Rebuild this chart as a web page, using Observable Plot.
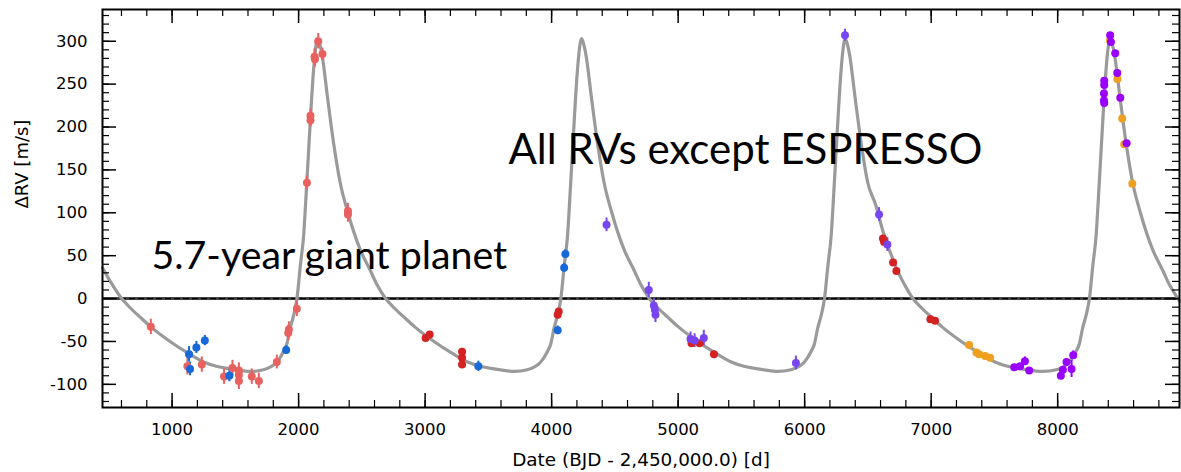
<!DOCTYPE html>
<html><head><meta charset="utf-8">
<script src="https://cdn.jsdelivr.net/npm/d3@7"></script>
<script src="https://cdn.jsdelivr.net/npm/@observablehq/plot@0.6"></script>
<style>body{margin:0;background:#fff;} svg{display:block;}</style>
</head><body><div id="chart"></div>
<script>
// ---------- data ----------
const instruments = ["set1", "set2", "set3", "set4", "set5", "set6"];
const instColors  = ["#e8615e", "#1769d9", "#d42222", "#7746f0", "#f0a020", "#9a00ff"];

// [date, dRV, error]
const set1 = [[832,-33,9],[1121,-79,10],[1235,-77,9],[1411,-91,9],[1477,-81,9],[1528,-84,9],[1528,-89,9],[1528,-96,10],[1630,-91,9],[1686,-96,9],[1828,-74,8],[1918,-40,9],[1923,-36,9],[1986,-12,9],[2066,135,8],[2094,213,8],[2094,208,8],[2126,282,9],[2129,279,9],[2155,300,9],[2189,285,7],[2390,102,9],[2390,98,9]];
const set2 = [[1134,-65,9],[1142,-82,8],[1192,-57,7],[1259,-49,6],[1453,-90,7],[1902,-60,5],[3421,-79,6],[4048,-37,5],[4099,36,5],[4109,52,5]];
const set3 = [[3004,-46,2],[3036,-42,2],[3292,-62,2],[3292,-69,2],[3292,-77,2],[4048,-19,2],[4056,-15,2],[5106,-52,2],[5169,-52,2],[5283,-65,2],[6619,70,2],[6628,66,2],[6699,42,2],[6725,32,2],[6994,-24,2],[7031,-26,2]];
const set4 = [[4434,86,8],[4768,10,9],[4808,-8,8],[4816,-13,8],[4821,-19,9],[5098,-47,8],[5130,-49,8],[5203,-46,9],[5931,-75,8],[6319,307,7],[6588,98,8],[6654,63,8]];
const set5 = [[7300,-54,2],[7358,-63,2],[7379,-65,2],[7427,-67,2],[7466,-69,2],[8413,301,2],[8472,256,2],[8510,210,2],[8526,180,2],[8590,134,2]];
const set6 = [[7657,-80,2],[7703,-79,2],[7741,-73,5],[7775,-84,2],[8025,-90,3],[8041,-83,3],[8070,-74,3],[8110,-82,10],[8123,-66,5],[8368,254,3],[8368,249,3],[8366,239,3],[8366,231,3],[8368,228,3],[8415,307,3],[8421,299,3],[8455,286,3],[8471,263,3],[8495,234,3],[8545,181,3]];

// Keplerian model curve
const curveX = [450,520,602,670,750,832,984,1130,1250,1350,1459,1550,1617,1722,1828,1880,1907,1934,1960,1987,2015,2039,2066,2094,2118,2138,2150,2165,2190,2224,2276,2329,2390,2487,2566,2620,
2688,2756,2836,2918,3070,3216,3336,3436,3545,3636,3703,3808,3914,3966,3993,4020,4046,4073,4101,4125,4152,4180,4204,4224,4236,4251,4276,4310,4362,4415,4476,4573,4652,4706,
4772,4840,4920,5002,5154,5300,5420,5520,5629,5720,5787,5892,5998,6050,6077,6104,6130,6157,6185,6209,6236,6264,6288,6308,6320,6335,6360,6394,6446,6499,6560,6620,6700,6736,6790,
6856,6924,7004,7086,7238,7384,7504,7604,7713,7804,7880,7990,8092,8144,8171,8198,8224,8251,8279,8303,8330,8358,8382,8402,8414,8429,8454,8488,8540,8593,8654,8751,8830,8884,8950,8963];
const curveY = [36,18,0,-11,-22,-33,-50,-64,-74,-79,-82,-84,-85,-83,-74,-62,-53,-34,-20,0,40,72,138,211,266,296,303,298,280,240,182,135,100,57,33,16,
0,-11,-22,-33,-50,-64,-74,-79,-82,-84,-85,-83,-74,-62,-53,-34,-20,0,40,72,138,211,266,296,303,298,280,240,182,135,100,57,33,16,
0,-11,-22,-33,-50,-64,-74,-79,-82,-84,-85,-83,-74,-62,-53,-34,-20,0,40,72,138,211,266,296,303,298,280,240,182,135,110,78,45,32,16,
0,-11,-22,-33,-50,-64,-74,-79,-82,-84,-85,-83,-74,-62,-53,-34,-20,0,40,72,138,211,266,296,303,298,280,240,182,135,100,57,33,16,0,-3];

const xTickLabels = [1000,2000,3000,4000,5000,6000,7000,8000];
const yTickLabels = [-100,-50,0,50,100,150,200,250,300];
const xMinorTicks = d3.range(600, 8961, 200);
const yMinorTicks = d3.range(-120, 331, 10);

const xTitle = "Date (BJD - 2,450,000.0) [d]";
const yTitle = "ΔRV [m/s]";
const note1 = "All RVs except ESPRESSO";
const note2 = "5.7-year giant planet";

// ---------- build tables ----------
const sets = [set1, set2, set3, set4, set5, set6];
const points = sets.flatMap((s, i) => s.map(([x, y, e]) => ({inst: instruments[i], x, y, e})));
const curve = curveX.map((x, i) => ({x, y: curveY[i]}));

// ---------- layout ----------
const W = 1181, H = 472;
const mL = 102, mR = 2, mT = 9, mB = 65;
const pw = W - mL - mR, ph = H - mT - mB;
const majorLen = 14, minorLen = 7;

const chart = Plot.plot({
  width: W, height: H,
  marginLeft: mL, marginRight: mR, marginTop: mT, marginBottom: mB,
  style: {fontFamily: "'DejaVu Sans', Verdana, sans-serif", fontSize: "16px", background: "#fff", color: "#000"},
  x: {domain: [450, 8963], axis: null},
  y: {domain: [-127, 337], axis: null},
  color: {domain: instruments, range: instColors},
  marks: [
    Plot.ruleY([0], {stroke: "#444", strokeWidth: 3}),
    Plot.ruleY([0], {stroke: "#000", strokeWidth: 1.2, strokeDasharray: "6,3"}),
    Plot.line(curve, {x: "x", y: "y", stroke: "#9a9a9a", strokeWidth: 3.2, curve: "monotone-x"}),
    Plot.ruleX(points, {x: "x", y1: d => d.y - d.e, y2: d => d.y + d.e, stroke: "inst", strokeWidth: 2}),
    Plot.dot(points, {x: "x", y: "y", r: 4, fill: "inst", stroke: "none"}),
    // ticks on all four sides, pointing inward
    Plot.tickX(xTickLabels, {x: d => d, insetTop: ph - majorLen, stroke: "#000", strokeWidth: 1.5}),
    Plot.tickX(xTickLabels, {x: d => d, insetBottom: ph - majorLen, stroke: "#000", strokeWidth: 1.5}),
    Plot.tickX(xMinorTicks, {x: d => d, insetTop: ph - minorLen, stroke: "#000", strokeWidth: 1.2}),
    Plot.tickX(xMinorTicks, {x: d => d, insetBottom: ph - minorLen, stroke: "#000", strokeWidth: 1.2}),
    Plot.tickY(yTickLabels, {y: d => d, insetRight: pw - majorLen, stroke: "#000", strokeWidth: 1.5}),
    Plot.tickY(yTickLabels, {y: d => d, insetLeft: pw - majorLen, stroke: "#000", strokeWidth: 1.5}),
    Plot.tickY(yMinorTicks, {y: d => d, insetRight: pw - minorLen, stroke: "#000", strokeWidth: 1.2}),
    Plot.tickY(yMinorTicks, {y: d => d, insetLeft: pw - minorLen, stroke: "#000", strokeWidth: 1.2}),
    Plot.frame({stroke: "#000", strokeWidth: 2}),
    Plot.axisX(xTickLabels, {tickSize: 0, tickPadding: 16, tickFormat: d => `${d}`, label: null, fontSize: 16.5}),
    Plot.axisY(yTickLabels, {tickSize: 0, tickPadding: 15, tickFormat: d => `${d}`, label: null, fontSize: 16.5}),
    Plot.text([xTitle], {text: d => d, frameAnchor: "bottom", dy: 58, lineAnchor: "bottom", fontSize: 18.4}),
    Plot.text([yTitle], {text: d => d, frameAnchor: "left", dx: -80, rotate: -90, lineAnchor: "middle", fontSize: 18}),
    Plot.text([note1], {text: d => d, frameAnchor: "top-left", dx: 508 - mL, dy: 163 - mT, textAnchor: "start", lineAnchor: "bottom", fontSize: 42, fontFamily: "Lato"}),
    Plot.text([note2], {text: d => d, frameAnchor: "top-left", dx: 151 - mL, dy: 268 - mT, textAnchor: "start", lineAnchor: "bottom", fontSize: 39.3, fontFamily: "Lato"})
  ]
});
document.getElementById("chart").appendChild(chart);
</script>
</body></html>
